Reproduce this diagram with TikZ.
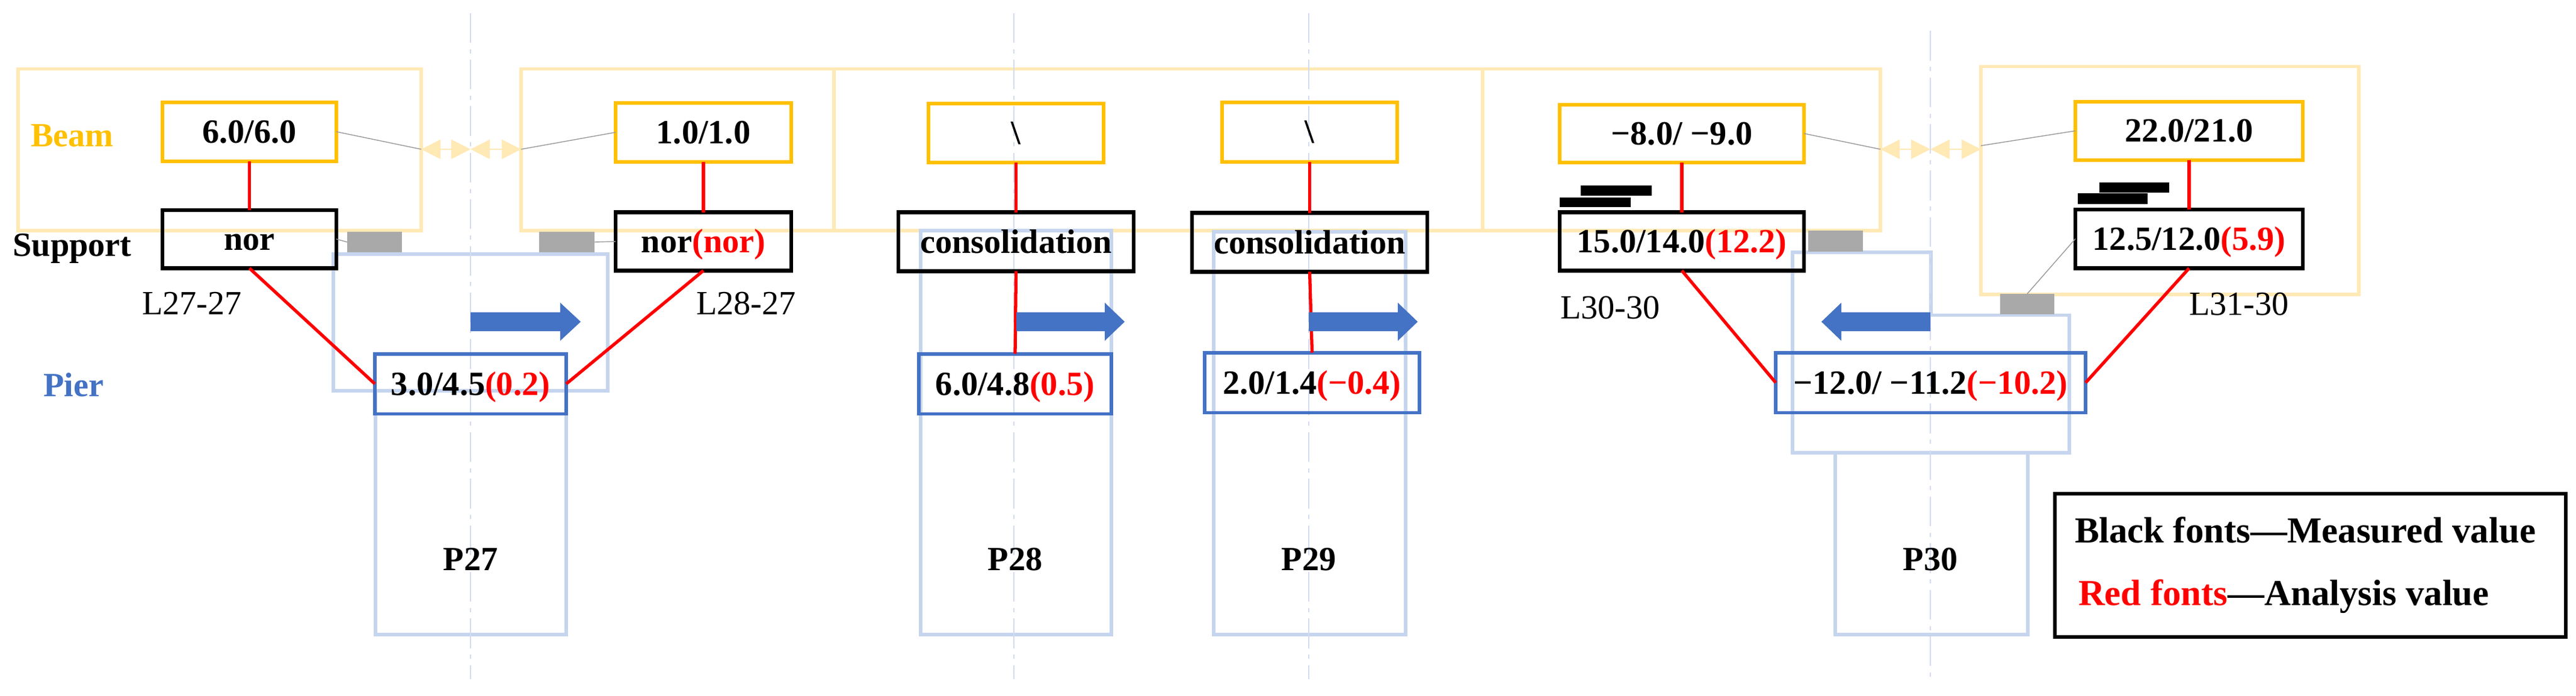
\documentclass[tikz,border=0pt]{standalone}
\usepackage{fontspec}
\setmainfont{Liberation Serif}
\usetikzlibrary{arrows.meta}
\definecolor{ybeam}{HTML}{FFC000}
\definecolor{yframe}{HTML}{FFE9B5}
\definecolor{bpier}{HTML}{4472C4}
\definecolor{bframe}{HTML}{C6D5EE}
\definecolor{axisc}{HTML}{D3DBF2}
\definecolor{grayb}{HTML}{A9A9A9}
\definecolor{redc}{HTML}{FF0000}
\tikzset{
  anybox/.style={rectangle,inner sep=0pt,outer sep=0pt,align=center,font=\fontsize{16}{18}\selectfont\bfseries,text height=10.6pt,text depth=0pt},
  yellowbox/.style={anybox,draw=ybeam,line width=1.7pt},
  blackbox/.style={anybox,draw=black,line width=1.8pt},
  bluebox/.style={anybox,draw=bpier,line width=1.6pt},
  yframebox/.style={anybox,draw=yframe,line width=1.6pt,text height=0pt},
  bframebox/.style={anybox,draw=bframe,line width=1.6pt,text height=0pt},
  graybox/.style={anybox,fill=grayb,text height=0pt},
  barbox/.style={anybox,fill=black,text height=0pt},
  redline/.style={draw=redc,line width=1.5pt},
  thinline/.style={draw=gray!80,line width=0.4pt},
  axisline/.style={draw=axisc,line width=0.6pt,dash pattern=on 14pt off 3pt on 2pt off 3pt},
  dblarrow/.style={draw=yframe,line width=0.7pt,{Triangle[length=0.32cm,width=0.32cm]}-{Triangle[length=0.32cm,width=0.32cm]}},
  blockarrow/.style={fill=bpier,draw=none},
  lab/.style={inner sep=0pt,outer sep=0pt,font=\fontsize{16}{18}\selectfont\bfseries,text height=10.6pt,text depth=0pt},
  linelab/.style={inner sep=0pt,outer sep=0pt,font=\fontsize{16}{18}\selectfont,text height=10.6pt,text depth=0pt},
  leglab/.style={inner sep=0pt,outer sep=0pt,anchor=west,font=\fontsize{17.3}{20}\selectfont\bfseries,text height=11.4pt,text depth=0pt},
}
\newcommand{\pbox}[7]{\node[#1,minimum width={(#5-#3)*0.01cm},minimum height={(#6-#4)*0.00987cm}] (#2) at ({(#3+#5)/2},{(#4+#6)/2}) {#7};}
\newcommand{\rv}[1]{\textcolor{redc}{#1}}
\begin{document}
\begin{tikzpicture}[x=0.01cm,y=-0.00987cm]
\useasboundingbox (0,0) rectangle (4281,1170.2);
% beam frames
\pbox{yframebox}{fa}{30}{116}{700}{388}{}
\pbox{yframebox}{fb}{866}{116}{1386}{388}{}
\pbox{yframebox}{fc}{1386}{116}{2464}{388}{}
\pbox{yframebox}{fd}{2464}{116}{3125}{388}{}
\pbox{yframebox}{fe}{3292}{112}{3920}{495}{}
% pier frames
\pbox{bframebox}{capa}{554}{427}{1010}{657}{}
\pbox{bframebox}{cola}{624}{657}{941}{1067}{}
\pbox{bframebox}{colb}{1530}{388}{1847}{1067}{}
\pbox{bframebox}{colc}{2017}{390}{2336}{1067}{}
\draw[bframe,line width=1.6pt] (2979,761) -- (2979,424) -- (3209,424) -- (3209,530) -- (3439,530) -- (3439,761) -- cycle;
\pbox{bframebox}{cold}{3050}{761}{3370}{1067}{}
% axes
\coordinate (a1t) at (782,22); \coordinate (a1b) at (782,1142);
\coordinate (a2t) at (1685,22); \coordinate (a2b) at (1685,1142);
\coordinate (a3t) at (2175,22); \coordinate (a3b) at (2175,1142);
\coordinate (a4t) at (3208,52); \coordinate (a4b) at (3208,1146);
\draw[axisline] (a1t) -- (a1b);
\draw[axisline] (a2t) -- (a2b);
\draw[axisline] (a3t) -- (a3b);
\draw[axisline] (a4t) -- (a4b);
% bearing pads
\pbox{graybox}{ga}{577}{390}{668}{424}{}
\pbox{graybox}{gb}{896}{390}{988}{424}{}
\pbox{graybox}{gc}{3005}{388}{3096}{423}{}
\pbox{graybox}{gd}{3324}{494}{3414}{528}{}
% movement joints
\coordinate (ja) at (700,251); \coordinate (jb) at (782,251); \coordinate (jc) at (866,251);
\coordinate (jd) at (3125,251); \coordinate (je) at (3208,251); \coordinate (jf) at (3292,245);
\coordinate (jg) at (3292,251);
\draw[dblarrow] (ja) -- (jb);
\draw[dblarrow] (jb) -- (jc);
\draw[dblarrow] (jd) -- (je);
\draw[dblarrow] (je) -- (jg);
% beam values
\pbox{yellowbox}{ba}{270}{172}{559}{271}{6.0/6.0}
\pbox{yellowbox}{bb}{1023}{173}{1315}{272}{1.0/1.0}
\pbox{yellowbox}{bc}{1543}{174}{1834}{273}{\textbackslash}
\pbox{yellowbox}{bd}{2031}{172}{2322}{272}{\textbackslash}
\pbox{yellowbox}{be}{2592}{176}{2998}{273}{−8.0/ −9.0}
\pbox{yellowbox}{bf}{3449}{171}{3827}{269}{22.0/21.0}
% support values
\pbox{blackbox}{sa}{270}{353}{559}{451}{nor}
\pbox{blackbox}{sb}{1023}{357}{1315}{455}{nor\rv{(nor)}}
\pbox{blackbox}{sc}{1493}{357}{1884}{456}{consolidation}
\pbox{blackbox}{sd}{1981}{358}{2372}{457}{consolidation}
\pbox{blackbox}{se}{2592}{357}{2998}{455}{15.0/14.0\rv{(12.2)}}
\pbox{blackbox}{sf}{3449}{352}{3827}{451}{12.5/12.0\rv{(5.9)}}
% pier values
\pbox{bluebox}{pa}{623}{595}{941}{696}{3.0/4.5\rv{(0.2)}}
\pbox{bluebox}{pb}{1527}{595}{1847}{696}{6.0/4.8\rv{(0.5)}}
\pbox{bluebox}{pc}{2002}{593}{2359}{694}{2.0/1.4\rv{(−0.4)}}
\pbox{bluebox}{pd}{2951}{593}{3466}{694}{−12.0/ −11.2\rv{(−10.2)}}
% thin leaders
\draw[thinline] (ba.east) -- (ja);
\draw[thinline] (jc) -- (bb.west);
\draw[thinline] (be.east) -- (jd);
\draw[thinline] (jf) -- (bf.west);
\draw[thinline] (sa.east) -- (ga.west);
\draw[thinline] (sb.west) -- (gb.east);
\draw[thinline] (sf.west) -- (gd.north);
% red links
\draw[redline] (ba.south) -- (sa.north);
\draw[redline] (bb.south) -- (sb.north);
\draw[redline] (bc.south) -- (sc.north);
\draw[redline] (bd.south) -- (sd.north);
\draw[redline] (be.south) -- (se.north);
\draw[redline] (bf.south) -- (sf.north);
\draw[redline] (sa.south) -- (pa.west);
\draw[redline] (sb.south) -- (pa.east);
\draw[redline] (sc.south) -- (pb.north);
\draw[redline] (sd.south) -- (pc.north);
\draw[redline] (se.south) -- (pd.west);
\draw[redline] (sf.south) -- (pd.east);
% movement arrows
\fill[blockarrow] (782,525) -- (931,525) -- (931,509) -- (965,541) -- (931,573) -- (931,557) -- (782,557) -- cycle;
\fill[blockarrow] (1689,525) -- (1836,525) -- (1836,509) -- (1869,541) -- (1836,573) -- (1836,557) -- (1689,557) -- cycle;
\fill[blockarrow] (2175,525) -- (2323,525) -- (2323,509) -- (2356,541) -- (2323,573) -- (2323,557) -- (2175,557) -- cycle;
\fill[blockarrow] (3208,525) -- (3060,525) -- (3060,509) -- (3027,541) -- (3060,573) -- (3060,557) -- (3208,557) -- cycle;
% black bars
\pbox{barbox}{xa}{2627}{312}{2745}{329}{}
\pbox{barbox}{xb}{2592}{332}{2710}{348}{}
\pbox{barbox}{xc}{3489}{307}{3605}{324}{}
\pbox{barbox}{xd}{3453}{325}{3569}{343}{}
% row labels
\node[lab,text=ybeam] (lbeam) at (120,228) {Beam};
\node[lab] (lsupp) at (120,412) {Support};
\node[lab,text=bpier] (lpier) at (122,648) {Pier};
% line labels
\node[linelab] (la) at (319,510) {L27-27};
\node[linelab] (lb) at (1240,510) {L28-27};
\node[linelab] (lc) at (2676,517) {L30-30};
\node[linelab] (ld) at (3721,511) {L31-30};
% pier names
\node[lab] (na) at (782,940) {P27};
\node[lab] (nb) at (1687,940) {P28};
\node[lab] (nc) at (2175,940) {P29};
\node[lab] (nd) at (3208,940) {P30};
% legend
\pbox{blackbox}{leg}{3415}{830}{4264}{1071}{}
\node[leglab] (lega) at (3448,892) {Black fonts—Measured value};
\node[leglab] (legb) at (3454,998) {\rv{Red fonts}—Analysis value};
\end{tikzpicture}
\end{document}
